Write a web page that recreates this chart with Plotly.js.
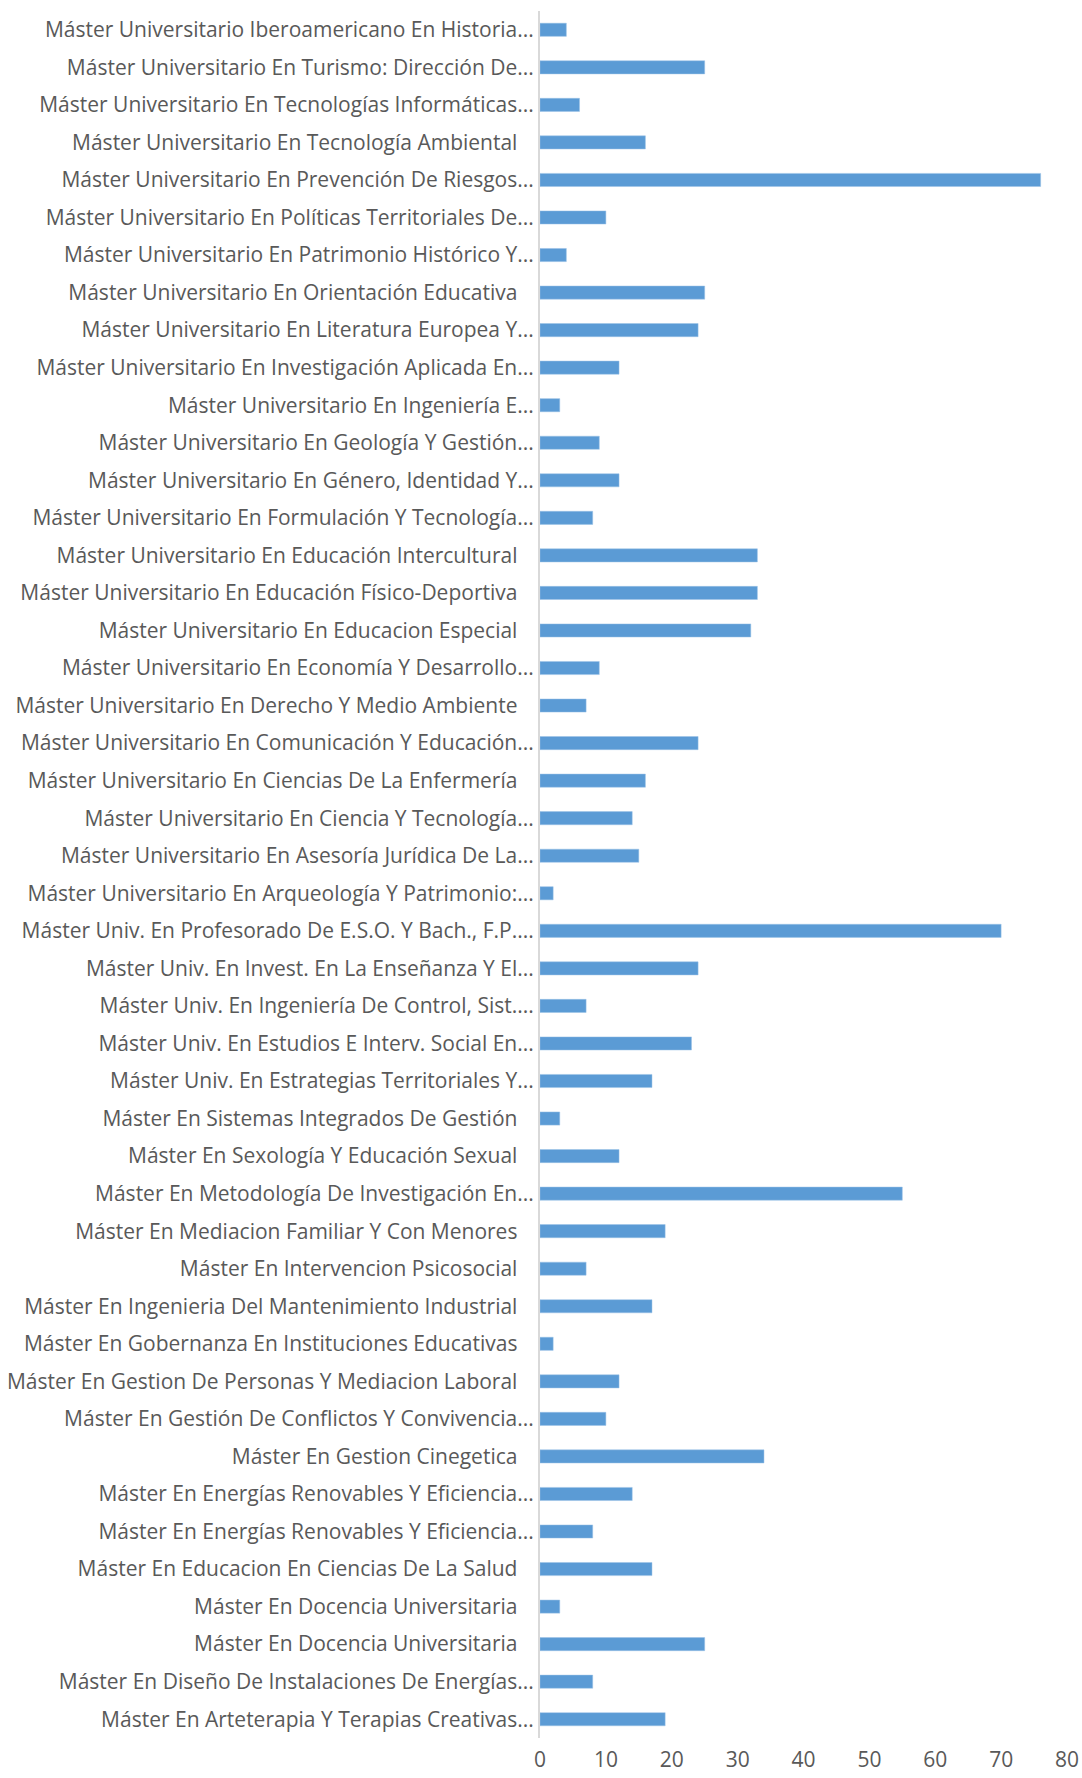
<!DOCTYPE html>
<html>
<head>
<meta charset="utf-8">
<script src="https://cdn.plot.ly/plotly-3.0.1.min.js"></script>
<style>html,body{margin:0;padding:0;background:#fff;}#chart{width:1082px;height:1778px;}</style>
</head>
<body>
<div id="chart"></div>
<script>
var categories = [
  "Máster Universitario Iberoamericano En Historia...",
  "Máster Universitario En Turismo: Dirección De...",
  "Máster Universitario En Tecnologías Informáticas...",
  "Máster Universitario En Tecnología Ambiental",
  "Máster Universitario En Prevención De Riesgos...",
  "Máster Universitario En Políticas Territoriales De...",
  "Máster Universitario En Patrimonio Histórico Y...",
  "Máster Universitario En Orientación Educativa",
  "Máster Universitario En Literatura Europea Y...",
  "Máster Universitario En Investigación Aplicada En...",
  "Máster Universitario En Ingeniería E...",
  "Máster Universitario En Geología Y Gestión...",
  "Máster Universitario En Género, Identidad Y...",
  "Máster Universitario En Formulación Y Tecnología...",
  "Máster Universitario En Educación Intercultural",
  "Máster Universitario En Educación Físico-Deportiva",
  "Máster Universitario En Educacion Especial",
  "Máster Universitario En Economía Y Desarrollo...",
  "Máster Universitario En Derecho Y Medio Ambiente",
  "Máster Universitario En Comunicación Y Educación...",
  "Máster Universitario En Ciencias De La Enfermería",
  "Máster Universitario En Ciencia Y Tecnología...",
  "Máster Universitario En Asesoría Jurídica De La...",
  "Máster Universitario En Arqueología Y Patrimonio:...",
  "Máster Univ. En Profesorado De E.S.O. Y Bach., F.P....",
  "Máster Univ. En Invest. En La Enseñanza Y El...",
  "Máster Univ. En Ingeniería De Control, Sist....",
  "Máster Univ. En Estudios E Interv. Social En...",
  "Máster Univ. En Estrategias Territoriales Y...",
  "Máster En Sistemas Integrados De Gestión",
  "Máster En Sexología Y Educación Sexual",
  "Máster En Metodología De Investigación En...",
  "Máster En Mediacion Familiar Y Con Menores",
  "Máster En Intervencion Psicosocial",
  "Máster En Ingenieria Del Mantenimiento Industrial",
  "Máster En Gobernanza En Instituciones Educativas",
  "Máster En Gestion De Personas Y Mediacion Laboral",
  "Máster En Gestión De Conflictos Y Convivencia...",
  "Máster En Gestion Cinegetica",
  "Máster En Energías Renovables Y Eficiencia...",
  "Máster En Energías Renovables Y Eficiencia...",
  "Máster En Educacion En Ciencias De La Salud",
  "Máster En Docencia Universitaria",
  "Máster En Docencia Universitaria",
  "Máster En Diseño De Instalaciones De Energías...",
  "Máster En Arteterapia Y Terapias Creativas..."
];
var values = [4, 25, 6, 16, 76, 10, 4, 25, 24, 12, 3, 9, 12, 8, 33, 33, 32, 9, 7, 24, 16, 14, 15, 2, 70, 24, 7, 23, 17, 3, 12, 55, 19, 7, 17, 2, 12, 10, 34, 14, 8, 17, 3, 25, 8, 19];
var xTicks = [0, 10, 20, 30, 40, 50, 60, 70, 80];

var idx = categories.map(function(_, i){ return i; });
var ticktext = categories.map(function(c){
  return c.slice(-3) === '...' ? c : c + '\u00a0\u00a0\u00a0';
});

var trace = {
  type: 'bar',
  orientation: 'h',
  x: values,
  y: idx,
  marker: {color: '#5B9BD5', line: {color: '#9DC3E6', width: 0.5}},
  hoverinfo: 'x+text',
  text: categories,
  textposition: 'none'
};

var layout = {
  width: 1082, height: 1778,
  margin: {l: 540, r: 15, t: 11, b: 40},
  paper_bgcolor: '#ffffff', plot_bgcolor: '#ffffff',
  bargap: 0.65,
  showlegend: false,
  font: {family: 'Open Sans, sans-serif', color: '#595959', size: 21},
  xaxis: {
    range: [0, 80], tickvals: xTicks, ticktext: xTicks.map(String),
    showgrid: false, zeroline: false, showline: false, ticks: '',
    ticklabelstandoff: 7,
    tickfont: {size: 21, color: '#595959'}, fixedrange: true
  },
  yaxis: {
    tickmode: 'array', tickvals: idx, ticktext: ticktext,
    autorange: false, range: [categories.length - 0.5, -0.5],
    showgrid: false, zeroline: false, showline: true, linecolor: '#D9D9D9', linewidth: 2,
    ticks: '', tickfont: {size: 21, color: '#595959'}, fixedrange: true
  }
};

Plotly.newPlot('chart', [trace], layout, {displayModeBar: false, staticPlot: true});
</script>
</body>
</html>
